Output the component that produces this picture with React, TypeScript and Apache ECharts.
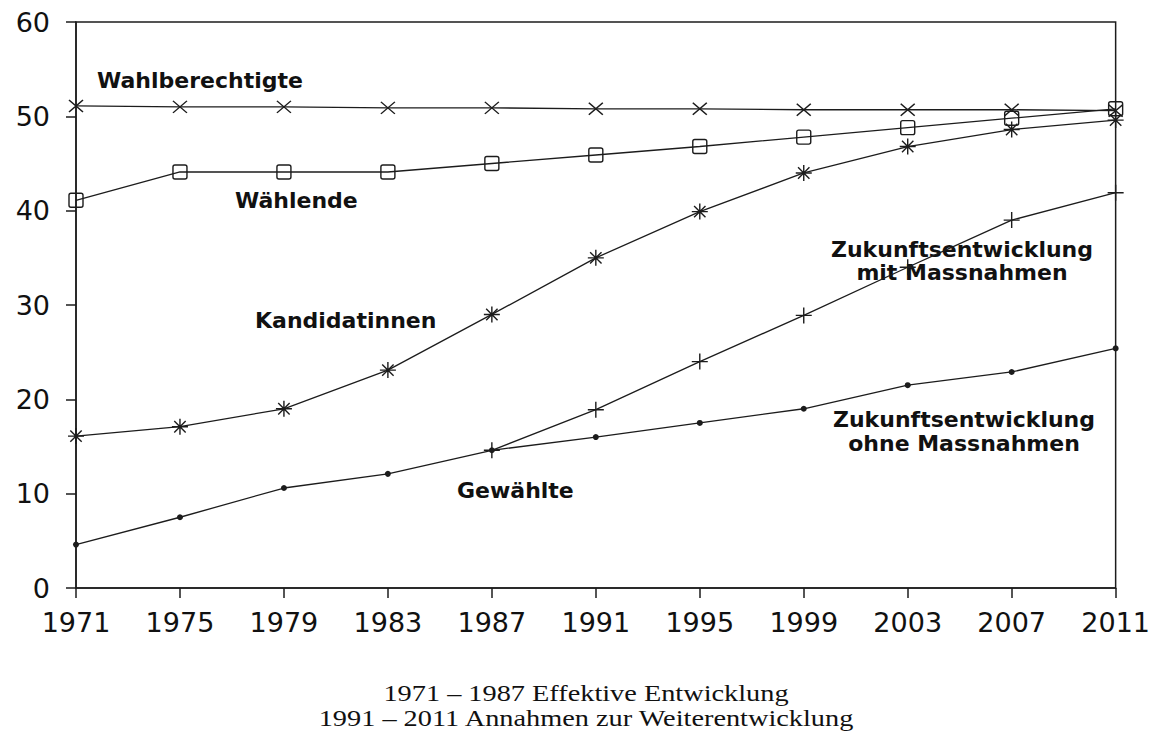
import React, { useEffect, useRef } from "react";
import * as echarts from "echarts";

const years = ["1971", "1975", "1979", "1983", "1987", "1991", "1995", "1999", "2003", "2007", "2011"];
const wahlberechtigte = [51.1, 51.0, 51.0, 50.9, 50.9, 50.8, 50.8, 50.7, 50.7, 50.7, 50.6];
const waehlende = [41.1, 44.1, 44.1, 44.1, 45.0, 45.9, 46.8, 47.8, 48.8, 49.8, 50.8];
const kandidatinnen = [16.1, 17.1, 19.0, 23.1, 29.0, 35.0, 39.9, 44.0, 46.8, 48.6, 49.6];
const gewaehlte = [4.6, 7.5, 10.6, 12.1, 14.6, 16.0, 17.5, 19.0, 21.5, 22.9, 25.4];
const mitMassnahmen = [null, null, null, null, 14.6, 18.9, 24.0, 28.9, 34.0, 39.0, 41.9];
const yTicks = { min: 0, max: 60, interval: 10 };

const INK = "#1c1c1c";
const LABEL_FONT = "bold 22px 'DejaVu Sans', sans-serif";
const CAPTION_FONT = "24px 'Liberation Serif', serif";

export default function App() {
  const ref = useRef<HTMLDivElement>(null);
  useEffect(() => {
    if (!ref.current) return;
    const chart = echarts.init(ref.current, null, { renderer: "svg" });
    const lineStyle = { color: INK, width: 1.3 };
    const hollow = { color: "rgba(0,0,0,0)", borderColor: INK, borderWidth: 1.4 };
    chart.setOption({
      animation: false,
      backgroundColor: "#ffffff",
      grid: {
        left: 76,
        right: 35,
        top: 22,
        bottom: 152,
        show: true,
        borderColor: INK,
        borderWidth: 1.5,
        backgroundColor: "transparent",
      },
      xAxis: {
        type: "category",
        data: years,
        boundaryGap: false,
        axisLine: { show: true, lineStyle: { color: INK, width: 1.5 } },
        axisTick: { show: true, inside: false, length: 10, lineStyle: { color: INK, width: 1.5 } },
        axisLabel: {
          color: "#111",
          fontFamily: "'DejaVu Sans', sans-serif",
          fontSize: 27,
          margin: 21,
        },
        splitLine: { show: false },
      },
      yAxis: {
        type: "value",
        min: yTicks.min,
        max: yTicks.max,
        interval: yTicks.interval,
        axisLine: { show: true, lineStyle: { color: INK, width: 1.5 } },
        axisTick: { show: true, inside: false, length: 10, lineStyle: { color: INK, width: 1.5 } },
        axisLabel: {
          color: "#111",
          fontFamily: "'DejaVu Sans', sans-serif",
          fontSize: 27,
          margin: 26,
        },
        splitLine: { show: false },
      },
      series: [
        {
          name: "Wahlberechtigte",
          type: "line",
          data: wahlberechtigte,
          clip: false,
          symbol: "path://M0,0 L10,10 M10,0 L0,10",
          symbolSize: [14, 12],
          lineStyle,
          itemStyle: hollow,
        },
        {
          name: "Wählende",
          type: "line",
          data: waehlende,
          clip: false,
          symbol: "path://M2,0 L12,0 Q14,0 14,2 L14,12 Q14,14 12,14 L2,14 Q0,14 0,12 L0,2 Q0,0 2,0 Z",
          symbolSize: 14,
          lineStyle,
          itemStyle: hollow,
        },
        {
          name: "Kandidatinnen",
          type: "line",
          data: kandidatinnen,
          clip: false,
          symbol: "path://M8,0 L8,16 M0,8 L16,8 M2.3,2.3 L13.7,13.7 M13.7,2.3 L2.3,13.7",
          symbolSize: 16,
          lineStyle,
          itemStyle: hollow,
        },
        {
          name: "Gewählte",
          type: "line",
          data: gewaehlte,
          clip: false,
          symbol: "circle",
          symbolSize: 6,
          lineStyle,
          itemStyle: { color: INK },
        },
        {
          name: "Zukunftsentwicklung mit Massnahmen",
          type: "line",
          data: mitMassnahmen,
          clip: false,
          connectNulls: false,
          symbol: "path://M6,0 L6,12 M0,6 L12,6",
          symbolSize: 16,
          lineStyle,
          itemStyle: hollow,
        },
      ],
      graphic: [
        { type: "text", x: 97, y: 80, style: { text: "Wahlberechtigte", font: LABEL_FONT, fill: "#111", textAlign: "left", textVerticalAlign: "middle" } },
        { type: "text", x: 235, y: 200, style: { text: "Wählende", font: LABEL_FONT, fill: "#111", textAlign: "left", textVerticalAlign: "middle" } },
        { type: "text", x: 255, y: 320, style: { text: "Kandidatinnen", font: LABEL_FONT, fill: "#111", textAlign: "left", textVerticalAlign: "middle" } },
        { type: "text", x: 457, y: 490, style: { text: "Gewählte", font: LABEL_FONT, fill: "#111", textAlign: "left", textVerticalAlign: "middle" } },
        { type: "text", x: 962, y: 249, style: { text: "Zukunftsentwicklung", font: LABEL_FONT, fill: "#111", textAlign: "center", textVerticalAlign: "middle" } },
        { type: "text", x: 962, y: 272, style: { text: "mit Massnahmen", font: LABEL_FONT, fill: "#111", textAlign: "center", textVerticalAlign: "middle" } },
        { type: "text", x: 964, y: 419, style: { text: "Zukunftsentwicklung", font: LABEL_FONT, fill: "#111", textAlign: "center", textVerticalAlign: "middle" } },
        { type: "text", x: 964, y: 443, style: { text: "ohne Massnahmen", font: LABEL_FONT, fill: "#111", textAlign: "center", textVerticalAlign: "middle" } },
        { type: "text", x: 586, y: 693, scaleX: 1.18, style: { text: "1971 – 1987 Effektive Entwicklung", font: CAPTION_FONT, fill: "#111", textAlign: "center", textVerticalAlign: "middle" } },
        { type: "text", x: 586, y: 718, scaleX: 1.18, style: { text: "1991 – 2011 Annahmen zur Weiterentwicklung", font: CAPTION_FONT, fill: "#111", textAlign: "center", textVerticalAlign: "middle" } },
      ],
    });
    return () => chart.dispose();
  }, []);
  return <div ref={ref} style={{ position: "fixed", left: 0, top: 0, width: 1153, height: 740, background: "#fff" }} />;
}
